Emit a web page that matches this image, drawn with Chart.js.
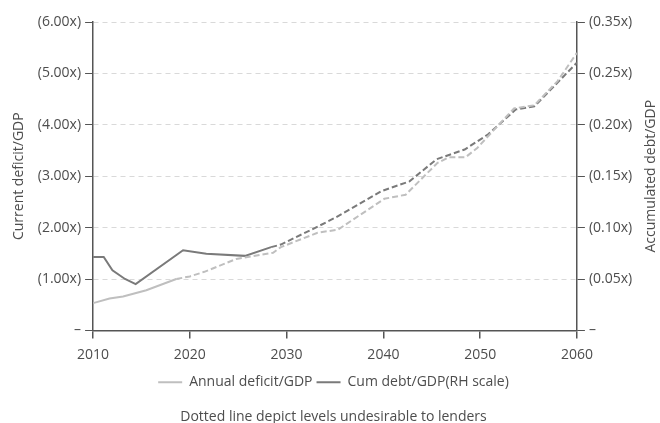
<!DOCTYPE html>
<html>
<head>
<meta charset="utf-8">
<script src="https://cdn.jsdelivr.net/npm/chart.js@4/dist/chart.umd.min.js"></script>
<style>
  html, body { margin: 0; padding: 0; background: #fff; }
  #wrap { width: 660px; height: 423px; position: relative; }
</style>
</head>
<body>
<div id="wrap"><canvas id="chart"></canvas></div>
<script>
// data
const deficitYears = [2010, 2011.7, 2013.1, 2015.5, 2018.6, 2020, 2021.5, 2024.8, 2028.6, 2029.4, 2033.2, 2035.3, 2040.1, 2042.3, 2045.6, 2046.8, 2048.5, 2049.7, 2053.5, 2055.6, 2058, 2060];
const deficitValues = [0.53, 0.62, 0.66, 0.78, 1.0, 1.05, 1.14, 1.39, 1.51, 1.62, 1.90, 1.96, 2.56, 2.64, 3.26, 3.37, 3.37, 3.55, 4.32, 4.38, 4.85, 5.40];

// cumulative debt, right hand scale
const debtYears = [2010, 2011.1, 2012, 2013.3, 2014.4, 2019.3, 2021.7, 2025.7, 2028.4, 2029.4, 2032.9, 2035.1, 2039.8, 2042.7, 2045.5, 2048.4, 2050.8, 2053.7, 2055.6, 2058, 2060];
const debtValues = [0.0715, 0.0715, 0.0585, 0.05, 0.045, 0.078, 0.0745, 0.0725, 0.081, 0.0835, 0.0995, 0.110, 0.1355, 0.145, 0.1665, 0.176, 0.1905, 0.215, 0.218, 0.241, 0.2605];

// where the dotted ("undesirable") part starts
const deficitDashFrom = 2018.6;
const debtDashFrom = 2028.4;

const leftTickLabels = ["–", "(1.00x)", "(2.00x)", "(3.00x)", "(4.00x)", "(5.00x)", "(6.00x)"];
const rightTickLabels = ["–", "(0.05x)", "(0.10x)", "(0.15x)", "(0.20x)", "(0.25x)", "(0.35x)"];
const rightTitle = "Accumulated debt/GDP";

const FONT = "'Open Sans', 'Noto Sans', sans-serif";
const TXT = "#4d4d4d";
const AXIS = "#555";
const LIGHT = "#bfbfbf";
const DARK = "#7a7a7a";

Chart.defaults.font.family = FONT;
Chart.defaults.font.size = 14;
Chart.defaults.color = TXT;

const toXY = (xs, ys) => xs.map((x, i) => ({ x: x, y: ys[i] }));

// right axis title reads bottom-to-top in the original, chart.js turns it the other way
const rightTitlePlugin = {
  id: "rightTitle",
  afterDraw(chart) {
    const s = chart.scales.y1;
    const ctx = chart.ctx;
    ctx.save();
    ctx.translate(s.right - 9, (s.top + s.bottom) / 2);
    ctx.rotate(-Math.PI / 2);
    ctx.font = "14px " + FONT;
    ctx.fillStyle = TXT;
    ctx.textAlign = "center";
    ctx.textBaseline = "middle";
    ctx.fillText(rightTitle, 0, 0);
    ctx.restore();
  },
};

new Chart(document.getElementById("chart").getContext("2d"), {
  type: "line",
  data: {
    datasets: [
      {
        label: "Annual deficit/GDP",
        data: toXY(deficitYears, deficitValues),
        borderColor: LIGHT,
        backgroundColor: LIGHT,
        borderWidth: 2,
        pointRadius: 0,
        tension: 0,
        yAxisID: "y",
        segment: {
          borderDash: (ctx) => (ctx.p0.parsed.x >= deficitDashFrom ? [6, 3] : undefined),
        },
      },
      {
        label: "Cum debt/GDP(RH scale)",
        data: toXY(debtYears, debtValues),
        borderColor: DARK,
        backgroundColor: DARK,
        borderWidth: 2,
        pointRadius: 0,
        tension: 0,
        yAxisID: "y1",
        segment: {
          borderDash: (ctx) => (ctx.p0.parsed.x >= debtDashFrom ? [6, 3] : undefined),
        },
      },
    ],
  },
  plugins: [rightTitlePlugin],
  options: {
    responsive: true,
    maintainAspectRatio: false,
    animation: false,
    layout: { padding: { left: 7, right: 0, top: 22, bottom: 0 } },
    plugins: {
      legend: {
        position: "bottom",
        labels: {
          boxWidth: 24,
          boxHeight: 2,
          padding: 4,
          color: TXT,
          font: { size: 14 },
          generateLabels: (chart) =>
            Chart.defaults.plugins.legend.labels
              .generateLabels(chart)
              .map((l) => ({ ...l, lineWidth: 0, lineDash: [] })),
        },
      },
      title: {
        display: true,
        position: "bottom",
        text: "Dotted line depict levels undesirable to lenders",
        color: TXT,
        font: { size: 14, weight: "normal" },
        padding: { top: 9, bottom: -2 },
      },
      tooltip: { enabled: false },
    },
    scales: {
      x: {
        type: "linear",
        min: 2010,
        max: 2060,
        ticks: { stepSize: 10, callback: (v) => String(v), color: TXT, padding: 8 },
        grid: { drawOnChartArea: false, tickColor: AXIS, tickLength: 8, lineWidth: 1.5 },
        border: { color: AXIS, width: 1.5 },
      },
      y: {
        position: "left",
        min: 0,
        max: 6,
        ticks: { stepSize: 1, callback: (v, i) => leftTickLabels[i], color: TXT, padding: 4 },
        grid: { color: "#d9d9d9", tickColor: AXIS, tickLength: 8, tickBorderDash: [] },
        border: { color: AXIS, width: 1.5, dash: [5, 4] },
        title: { display: true, text: "Current deficit/GDP", color: TXT, font: { size: 14 }, padding: { bottom: 6 } },
      },
      y1: {
        position: "right",
        min: 0,
        max: 0.3,
        ticks: { stepSize: 0.05, callback: (v, i) => rightTickLabels[i], color: TXT, padding: 4 },
        grid: { drawOnChartArea: false, tickColor: AXIS, tickLength: 8 },
        border: { color: AXIS, width: 1.5 },
        title: { display: true, text: rightTitle, color: "rgba(0,0,0,0)", font: { size: 14 }, padding: { top: 3 } },
      },
    },
  },
});
</script>
</body>
</html>
